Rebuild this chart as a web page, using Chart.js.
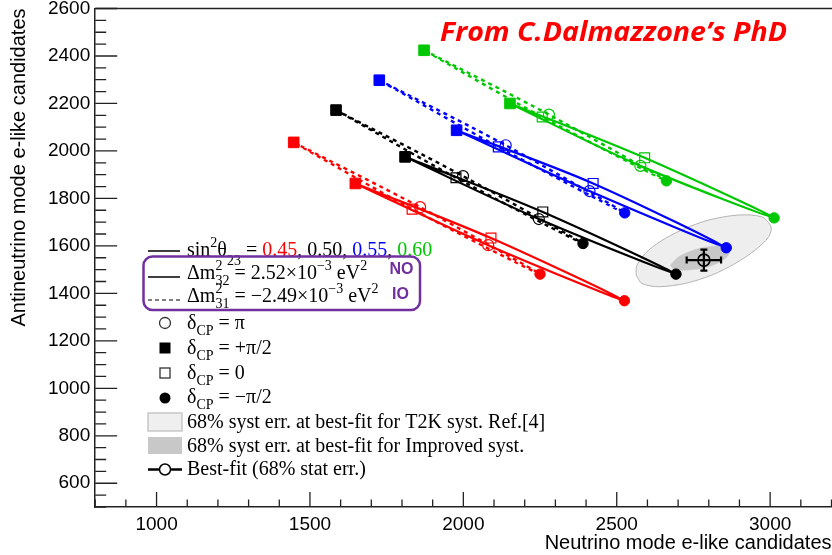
<!DOCTYPE html>
<html>
<head>
<meta charset="utf-8">
<script src="https://cdn.jsdelivr.net/npm/chart.js@4.4.1/dist/chart.umd.min.js"></script>
<style>
html, body { margin: 0; padding: 0; background: #fff; overflow: hidden; }
#moldura { width: 832px; height: 555px; overflow: hidden; }
</style>
</head>
<body>
<div id="moldura"><canvas id="graficoBiEvento" width="840" height="555"></canvas></div>
<script>
const valoresSin2 = ['0.45', '0.50', '0.55', '0.60'];
const coresSin2 = ['#ff0000', '#000000', '#0000ff', '#00c800'];

// pontos de cada laço na ordem dCP = +pi/2, pi, -pi/2, 0
const nuNO045 = [1648, 2081, 2525, 2090];
const anuNO045 = [1863, 1603, 1369, 1633];
const nuNO050 = [1810, 2246, 2693, 2259];
const anuNO050 = [1975, 1713, 1481, 1743];
const nuNO055 = [1978, 2411, 2857, 2423];
const anuNO055 = [2087, 1831, 1592, 1863];
const nuNO060 = [2152, 2577, 3013, 2591];
const anuNO060 = [2200, 1937, 1718, 1971];

const nuIO045 = [1447, 1859, 2250, 1833];
const anuIO045 = [2036, 1763, 1481, 1755];
const nuIO050 = [1585, 1999, 2390, 1976];
const anuIO050 = [2172, 1894, 1610, 1887];
const nuIO055 = [1726, 2138, 2526, 2114];
const anuIO055 = [2298, 2024, 1739, 2017];
const nuIO060 = [1872, 2279, 2662, 2257];
const anuIO060 = [2424, 2153, 1874, 2143];

const melhorAjuste = { x: 2784, y: 1540 };
const erroNu = 56;
const erroAnu = 44;

const elipseT2KNu = [2563, 2566, 2604, 2659, 2724, 2800, 2897, 2973, 3003, 2995, 2951, 2886, 2810, 2724, 2637, 2582];
const elipseT2KAnu = [1477, 1519, 1582, 1632, 1674, 1709, 1730, 1722, 1680, 1638, 1582, 1526, 1477, 1442, 1428, 1442];
const elipseMelhorNu = [2675, 2702, 2756, 2821, 2870, 2854, 2799, 2734, 2686];
const elipseMelhorAnu = [1519, 1554, 1585, 1600, 1589, 1547, 1512, 1498, 1501];

const ticksNu = [1000, 1500, 2000, 2500, 3000];
const ticksAnu = [600, 800, 1000, 1200, 1400, 1600, 1800, 2000, 2200, 2400, 2600];

const SERIF = "'Liberation Serif', 'Times New Roman', serif";
const SANS = "'Liberation Sans', Arial, sans-serif";

function fechaLaco(nu, anu) {
    const pts = nu.map((v, i) => ({ x: v, y: anu[i] }));
    pts.push({ x: nu[0], y: anu[0] });
    return pts;
}

function laco(nu, anu, cor, tracejado) {
    return {
        data: fechaLaco(nu, anu),
        showLine: true,
        tension: 0.3,
        borderColor: cor,
        borderWidth: tracejado ? 2.4 : 2.2,
        borderDash: tracejado ? [4, 4] : [],
        borderJoinStyle: 'round',
        pointStyle: ['rect', 'circle', 'circle', 'rect', 'circle'],
        pointRadius: [7.5, 5.5, 5.2, 7, 0],
        pointBackgroundColor: [cor, 'rgba(0,0,0,0)', cor, 'rgba(0,0,0,0)', cor],
        pointBorderColor: cor,
        pointBorderWidth: [1, 1.2, 1, 1.2, 0],
        order: 1
    };
}

const datasets = [
    {
        data: fechaLaco(elipseT2KNu, elipseT2KAnu),
        showLine: true, fill: 'shape', tension: 0.3,
        backgroundColor: '#eeeeee', borderColor: '#b4b4b4', borderWidth: 1,
        pointRadius: 0, order: 20
    },
    {
        data: fechaLaco(elipseMelhorNu, elipseMelhorAnu),
        showLine: true, fill: 'shape', tension: 0.3,
        backgroundColor: '#c8c8c8', borderColor: '#c8c8c8', borderWidth: 0.5,
        pointRadius: 0, order: 19
    },
    laco(nuIO045, anuIO045, coresSin2[0], true),
    laco(nuIO050, anuIO050, coresSin2[1], true),
    laco(nuIO055, anuIO055, coresSin2[2], true),
    laco(nuIO060, anuIO060, coresSin2[3], true),
    laco(nuNO045, anuNO045, coresSin2[0], false),
    laco(nuNO050, anuNO050, coresSin2[1], false),
    laco(nuNO055, anuNO055, coresSin2[2], false),
    laco(nuNO060, anuNO060, coresSin2[3], false),
    {
        data: [{ x: melhorAjuste.x - erroNu, y: melhorAjuste.y }, { x: melhorAjuste.x + erroNu, y: melhorAjuste.y }],
        showLine: true, borderColor: '#000', borderWidth: 2.2,
        pointStyle: 'line', pointRotation: 90, pointRadius: 3.5, pointBorderWidth: 2.2, pointBorderColor: '#000',
        order: 0
    },
    {
        data: [{ x: melhorAjuste.x, y: melhorAjuste.y - erroAnu }, { x: melhorAjuste.x, y: melhorAjuste.y + erroAnu }],
        showLine: true, borderColor: '#000', borderWidth: 2.2,
        pointStyle: 'line', pointRotation: 0, pointRadius: 3.5, pointBorderWidth: 2.2, pointBorderColor: '#000',
        order: 0
    },
    {
        data: [melhorAjuste],
        pointStyle: 'circle', pointRadius: 6, pointBorderWidth: 1.6,
        pointBackgroundColor: 'rgba(0,0,0,0)', pointBorderColor: '#000',
        order: -1
    }
];

const ticksInternos = {
    id: 'ticksInternos',
    beforeDatasetsDraw(chart) {
        const { ctx, chartArea: a, scales: { x, y } } = chart;
        ctx.save();
        ctx.strokeStyle = '#222';
        ctx.lineWidth = 1.3;
        ctx.beginPath();
        for (let v = 800; v <= 3200; v += 100) {
            const px = x.getPixelForValue(v);
            ctx.moveTo(px, a.bottom);
            ctx.lineTo(px, a.bottom - (v % 500 === 0 ? 15 : 7.5));
        }
        for (let v = 500; v <= 2600; v += 50) {
            const py = y.getPixelForValue(v);
            ctx.moveTo(a.left, py);
            ctx.lineTo(a.left + (v % 200 === 0 ? 22 : 11), py);
        }
        ctx.stroke();
        ctx.lineWidth = 1.5;
        ctx.beginPath();
        ctx.moveTo(a.left, a.top);
        ctx.lineTo(a.right + 2, a.top);
        ctx.stroke();
        ctx.restore();
    }
};

function textoMat(ctx, x, y, partes, tam) {
    const peq = Math.round(tam * 0.68);
    ctx.textAlign = 'left';
    ctx.textBaseline = 'alphabetic';
    for (const [txt, tipo, cor, dy] of partes) {
        ctx.fillStyle = cor || '#000';
        if (tipo === 'n') {
            ctx.font = tam + 'px ' + SERIF;
            ctx.fillText(txt, x, y);
            x += ctx.measureText(txt).width;
        } else if (tipo === 'sup') {
            ctx.font = peq + 'px ' + SERIF;
            ctx.fillText(txt, x, y - (dy || tam * 0.45));
            x += ctx.measureText(txt).width;
        } else if (tipo === 'sub') {
            ctx.font = peq + 'px ' + SERIF;
            ctx.fillText(txt, x, y + (dy || tam * 0.3));
            x += ctx.measureText(txt).width;
        } else {
            ctx.font = peq + 'px ' + SERIF;
            ctx.fillText(txt[0], x, y - tam * 0.45);
            ctx.fillText(txt[1], x, y + tam * 0.32);
            x += Math.max(ctx.measureText(txt[0]).width, ctx.measureText(txt[1]).width);
        }
    }
    return x;
}

const legenda = {
    id: 'legenda',
    afterDraw(chart) {
        const ctx = chart.ctx;
        const tam = 20;
        const xt = 187;
        ctx.save();

        ctx.strokeStyle = '#000';
        ctx.lineWidth = 1.5;
        ctx.beginPath();
        ctx.moveTo(148, 251); ctx.lineTo(180, 251);
        ctx.moveTo(148, 277); ctx.lineTo(180, 277);
        ctx.stroke();
        ctx.setLineDash([4, 3]);
        ctx.lineWidth = 1.2;
        ctx.beginPath();
        ctx.moveTo(148, 300); ctx.lineTo(181, 300);
        ctx.stroke();
        ctx.setLineDash([]);

        const linhaSin = [['sin', 'n'], ['2', 'sup'], ['θ', 'n'], ['23', 'sub', null, 9], [' = ', 'n']];
        valoresSin2.forEach((v, i) => {
            linhaSin.push([v, 'n', coresSin2[i]]);
            if (i < valoresSin2.length - 1) linhaSin.push([', ', 'n']);
        });
        textoMat(ctx, xt, 256, linhaSin, tam);
        textoMat(ctx, xt, 279, [['Δm', 'n'], [['2', '32'], 'ss'], [' = 2.52×10', 'n'], ['−3', 'sup'], [' eV', 'n'], ['2', 'sup']], tam);
        textoMat(ctx, xt, 302, [['Δm', 'n'], [['2', '31'], 'ss'], [' = −2.49×10', 'n'], ['−3', 'sup'], [' eV', 'n'], ['2', 'sup']], tam);

        ctx.strokeStyle = '#7030a0';
        ctx.lineWidth = 2.5;
        ctx.beginPath();
        ctx.roundRect(143.5, 256.5, 276.5, 53.5, 9);
        ctx.stroke();
        ctx.fillStyle = '#7030a0';
        ctx.font = 'bold 16px ' + SANS;
        ctx.textAlign = 'center';
        ctx.textBaseline = 'middle';
        ctx.fillText('NO', 401.5, 270);
        ctx.fillText('IO', 400.5, 295);

        const linhasDelta = [['π', 329], ['+π/2', 354], ['0', 379], ['−π/2', 403]];
        linhasDelta.forEach(([val, yb]) => {
            textoMat(ctx, xt, yb, [['δ', 'n'], ['CP', 'sub', null, 6], [' = ' + val, 'n']], tam);
        });

        ctx.strokeStyle = '#333';
        ctx.fillStyle = '#000';
        ctx.lineWidth = 1.3;
        ctx.beginPath(); ctx.arc(165, 323, 5.5, 0, Math.PI * 2); ctx.stroke();
        ctx.fillRect(159.5, 342.5, 11, 11);
        ctx.strokeRect(160, 368, 10, 10);
        ctx.beginPath(); ctx.arc(165, 398, 5.5, 0, Math.PI * 2); ctx.fill();

        ctx.fillStyle = '#efefef';
        ctx.fillRect(148, 413, 34, 18);
        ctx.strokeStyle = '#c8c8c8';
        ctx.lineWidth = 1.5;
        ctx.strokeRect(148, 413, 34, 18);
        ctx.fillStyle = '#c8c8c8';
        ctx.fillRect(148, 437, 34, 17);

        textoMat(ctx, xt, 428, [['68% syst err. at best-fit for T2K syst. Ref.[4]', 'n']], tam);
        textoMat(ctx, xt, 452, [['68% syst err. at best-fit for Improved syst.', 'n']], tam);
        textoMat(ctx, xt, 475, [['Best-fit (68% stat err.)', 'n']], tam);

        ctx.strokeStyle = '#000';
        ctx.lineWidth = 2.5;
        ctx.beginPath(); ctx.moveTo(148, 469.5); ctx.lineTo(182, 469.5); ctx.stroke();
        ctx.fillStyle = '#fff';
        ctx.lineWidth = 1.5;
        ctx.beginPath(); ctx.arc(165, 469.5, 5.5, 0, Math.PI * 2); ctx.fill(); ctx.stroke();

        const titulo = 'From C.Dalmazzone’s PhD';
        ctx.fillStyle = '#ff0000';
        ctx.font = "italic bold 26px 'Open Sans', sans-serif";
        ctx.textAlign = 'left';
        ctx.textBaseline = 'middle';
        const escala = 347 / ctx.measureText(titulo).width;
        ctx.translate(440, 34);
        ctx.scale(escala, 1);
        ctx.fillText(titulo, 0, 0);

        ctx.restore();
    }
};

const graficoBiEvento = new Chart(document.getElementById('graficoBiEvento'), {
    type: 'scatter',
    data: { datasets: datasets },
    options: {
        responsive: false,
        animation: false,
        devicePixelRatio: 1,
        layout: { padding: { top: 8.2, right: 7, left: 0, bottom: 0 } },
        plugins: { legend: { display: false }, tooltip: { enabled: false } },
        scales: {
            x: {
                type: 'linear', min: 800, max: 3200,
                afterBuildTicks: s => { s.ticks = ticksNu.map(v => ({ value: v })); },
                afterFit: s => { s.height = 48; s.paddingLeft = 0; s.paddingRight = 0; },
                grid: { display: false, drawTicks: false },
                border: { display: true, color: '#222', width: 1.5 },
                ticks: { color: '#000', padding: 6, maxRotation: 0, font: { family: SANS, size: 19 }, callback: v => String(v) },
                title: {
                    display: true, text: 'Neutrino mode e-like candidates', align: 'end', color: '#000',
                    font: { family: SANS, size: 20 }, padding: { top: 0, bottom: 0 }
                }
            },
            y: {
                type: 'linear', min: 500, max: 2600,
                afterBuildTicks: s => { s.ticks = ticksAnu.map(v => ({ value: v })); },
                afterFit: s => { s.width = 95.2; s.paddingTop = 0; s.paddingBottom = 0; },
                grid: { display: false, drawTicks: false },
                border: { display: true, color: '#222', width: 1.5 },
                ticks: { color: '#000', padding: 5, font: { family: SANS, size: 19 }, callback: v => String(v) },
                title: {
                    display: true, text: 'Antineutrino mode e-like candidates', align: 'end', color: '#000',
                    font: { family: SANS, size: 20 }, padding: { top: 7, bottom: 0 }
                }
            }
        }
    },
    plugins: [ticksInternos, legenda]
});
</script>
</body>
</html>
